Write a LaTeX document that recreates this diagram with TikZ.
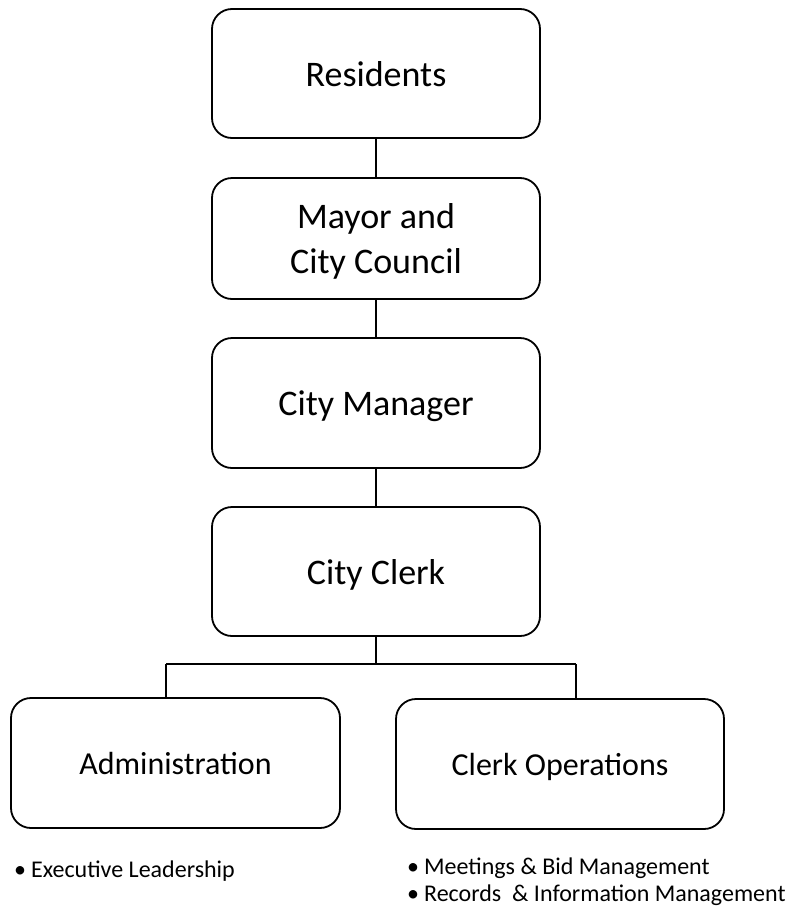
\documentclass[tikz,border=0pt]{standalone}
\usepackage{fontspec}
\setmainfont{Carlito}
\begin{document}
\begin{tikzpicture}[x=1pt,y=-1pt,
  box/.style={draw=black, line width=1.8pt, rounded corners=20pt, minimum width=328pt, inner sep=0pt, align=center, text depth=0pt},
  big/.style={font=\fontsize{36}{45}\selectfont},
  mid/.style={font=\fontsize{32}{40}\selectfont},
  bul/.style={anchor=base west, inner sep=0pt, font=\fontsize{24}{29}\selectfont},
  link/.style={draw=black, line width=1.8pt}]
\useasboundingbox (0,0) rectangle (790,913);
\node[box, big, minimum height=129pt] (res) at (376,73.5) {Residents};
\node[box, big, minimum height=121pt] (mayor) at (376,238.5) {Mayor and\\City Council};
\node[box, big, minimum height=130pt] (mgr) at (376,403) {City Manager};
\node[box, big, minimum height=129pt] (clerk) at (376,571.5) {City Clerk};
\node[box, mid, minimum height=130pt, minimum width=329pt] (admin) at (175.5,763) {Administration};
\node[box, mid, minimum height=130pt] (ops) at (560,764) {Clerk Operations};
\coordinate (jc) at (376,664);
\coordinate (jl) at (166,664);
\coordinate (jr) at (576,664);
\draw[link] (res) -- (mayor);
\draw[link] (mayor) -- (mgr);
\draw[link] (mgr) -- (clerk);
\draw[link] (clerk.south) -- (jc);
\draw[link] (jl) -- (jr);
\draw[link] (jl) -- (jl |- admin.north);
\draw[link] (jr) -- (jr |- ops.north);
\node[bul] (b1) at (14,877) {•\hspace{5pt}Executive Leadership};
\node[bul] (b2) at (407,874) {•\hspace{5pt}Meetings \& Bid Management};
\node[bul] (b3) at (407,901) {•\hspace{5pt}Records\ \ \& Information Management};
\end{tikzpicture}
\end{document}
